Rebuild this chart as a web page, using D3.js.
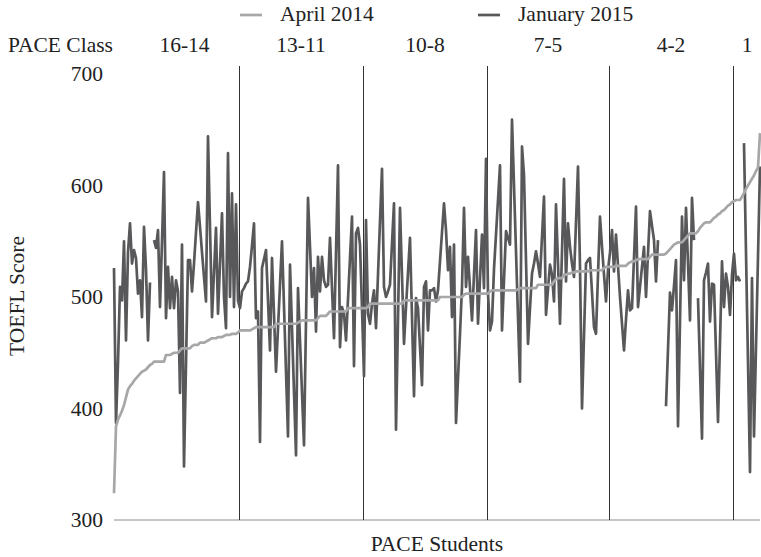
<!DOCTYPE html>
<html>
<head>
<meta charset="utf-8">
<script src="https://cdn.jsdelivr.net/npm/d3@7"></script>
<style>
  body { margin: 0; background: #fff; }
  svg text { font-family: "Liberation Serif", "Times New Roman", serif; fill: #222; }
</style>
</head>
<body>
<div id="chart"></div>
<script>
// one value per student, same order for both tests (null = no score)
const january2015 = [
  526,387,441,509,497,550,461,540,566,530,
  542,535,503,515,482,563,525,461,513,null,
  551,544,560,491,550,612,481,527,490,518,
  490,515,505,414,547,348,440,533,533,505,
  530,558,585,563,540,518,496,644,563,482,
  522,562,485,530,575,500,472,629,500,593,
  491,583,497,490,505,508,512,514,527,546,
  566,481,487,370,526,534,542,497,452,535,
  484,433,472,511,550,492,433,375,529,472,
  415,358,508,461,414,367,478,589,545,500,
  526,469,536,505,536,515,509,511,553,508,
  463,540,618,455,491,485,461,498,535,572,
  438,557,562,547,490,429,569,485,476,494,
  506,472,520,568,615,509,500,505,511,548,
  584,381,480,580,519,458,491,522,553,482,
  411,499,490,455,421,509,514,470,506,506,
  508,496,506,532,558,584,560,524,545,482,
  547,387,427,467,509,580,509,536,508,479,
  520,560,476,516,556,508,624,503,470,478,
  525,556,587,618,470,515,559,553,547,659,
  600,541,482,424,635,609,533,458,490,521,
  530,541,530,518,554,590,484,507,529,520,
  496,583,530,476,541,606,514,566,545,530,
  518,567,617,527,400,465,530,533,535,504,
  473,467,520,572,545,520,496,524,540,560,
  523,556,528,500,476,452,480,506,488,490,
  535,581,491,509,527,545,500,539,577,564,
  551,514,551,null,null,null,402,453,504,488,
  510,533,384,478,572,515,580,530,479,589,
  551,null,499,436,373,515,522,530,478,512,
  511,450,388,460,532,491,521,509,484,520,
  539,515,518,514,null,638,540,441,343,517,
  375,455,536,617
];

const april2014 = [
  324,384,390,394,398,403,410,417,420,422,
  425,427,429,431,433,434,435,437,439,440,
  442,442,442,442,442,442,448,448,448,449,
  450,450,450,452,454,454,454,454,454,456,
  457,457,457,459,459,459,460,461,462,463,
  463,463,464,464,464,465,466,466,466,467,
  467,467,468,470,470,470,470,470,470,471,
  472,473,473,473,473,473,473,473,473,473,
  473,476,476,476,476,476,476,476,476,476,
  476,476,477,478,479,479,479,479,479,479,
  479,479,481,483,483,483,483,485,487,487,
  487,487,487,487,487,487,487,490,490,490,
  490,490,490,490,490,490,490,491,494,494,
  494,494,494,494,494,494,494,494,494,494,
  494,494,494,494,494,497,497,497,497,497,
  497,497,497,497,497,497,497,497,497,497,
  497,497,497,500,500,500,500,500,500,500,
  500,500,500,500,500,502,503,503,503,503,
  503,503,503,503,503,503,503,503,505,506,
  506,506,506,506,506,506,506,506,506,506,
  506,506,507,508,508,508,508,508,508,508,
  508,508,511,511,511,511,511,511,511,511,
  514,516,517,517,517,520,520,521,521,522,
  522,523,523,523,523,523,523,523,524,524,
  524,524,524,524,524,526,527,527,527,527,
  527,528,528,528,528,528,528,530,531,532,
  532,533,534,534,534,534,534,534,536,538,
  538,538,538,538,538,538,539,541,543,545,
  547,548,549,549,549,551,553,555,557,557,
  557,557,559,562,564,566,567,567,567,569,
  571,572,574,575,577,578,580,582,583,585,
  586,587,587,587,590,593,597,600,603,606,
  609,613,616,647
];

const paceClasses = ["16-14", "13-11", "10-8", "7-5", "4-2", "1"];
const classSizes = [63, 62, 62, 61, 62, 14];
const yTicks = [300, 400, 500, 600, 700];
const seriesNames = ["April 2014", "January 2015"];
const seriesColors = ["#a7a7a9", "#58585a"];

const width = 761, height = 557;
const margin = {top: 74, right: 1, bottom: 37, left: 114};
const fontSize = "21.5px";

const svg = d3.select("#chart").append("svg")
    .attr("width", width)
    .attr("height", height);

const x = d3.scaleLinear()
    .domain([0, january2015.length - 1])
    .range([margin.left, width - margin.right]);

const y = d3.scaleLinear()
    .domain([300, 700])
    .range([height - margin.bottom, margin.top]);

// y axis, labels only
const yAxis = d3.axisLeft(y)
    .tickValues(yTicks)
    .tickSize(0)
    .tickPadding(11);

svg.append("g")
    .attr("class", "axis")
    .attr("transform", `translate(${margin.left},0)`)
    .call(yAxis)
    .attr("font-family", "Liberation Serif, serif")
    .attr("font-size", fontSize)
    .call(g => g.select(".domain").remove())
    .call(g => g.selectAll("text").attr("fill", "#222"));

// baseline at 300
svg.append("line")
    .attr("x1", x(0)).attr("x2", x(january2015.length - 1))
    .attr("y1", y(300)).attr("y2", y(300))
    .attr("stroke", "#8c8c8c")
    .attr("stroke-width", 1);

// class boundaries
let bounds = [];
let start = 0;
classSizes.forEach((n, i) => {
    bounds.push({name: paceClasses[i], from: start, to: start + n - 1});
    start += n;
});

svg.selectAll(".divider")
    .data(bounds.slice(1))
    .enter().append("line")
    .attr("class", "divider")
    .attr("x1", d => Math.round(x(d.from - 0.5)) + 0.5)
    .attr("x2", d => Math.round(x(d.from - 0.5)) + 0.5)
    .attr("y1", 66)
    .attr("y2", y(300))
    .attr("stroke", "#333")
    .attr("stroke-width", 1);

// class header row; first cell starts after the "PACE Class" caption
svg.append("text")
    .attr("x", 8)
    .attr("y", 52)
    .style("font-size", fontSize)
    .text("PACE Class");

svg.selectAll(".classLabel")
    .data(bounds)
    .enter().append("text")
    .attr("class", "classLabel")
    .attr("x", (d, i) => {
        let left = i === 0 ? 130 : x(d.from - 0.5);
        return (left + x(d.to + 0.5)) / 2;
    })
    .attr("y", 52)
    .attr("text-anchor", "middle")
    .style("font-size", fontSize)
    .text(d => d.name);

// lines
const line = d3.line()
    .defined(d => d != null)
    .x((d, i) => x(i))
    .y(d => y(d));

svg.append("path")
    .datum(january2015)
    .attr("fill", "none")
    .attr("stroke", seriesColors[1])
    .attr("stroke-width", 2.7)
    .attr("stroke-linejoin", "round")
    .attr("d", line);

svg.append("path")
    .datum(april2014)
    .attr("fill", "none")
    .attr("stroke", seriesColors[0])
    .attr("stroke-width", 2.7)
    .attr("stroke-linejoin", "round")
    .attr("d", line);

// legend
const legendX = [240, 478];
const legend = svg.selectAll(".legend")
    .data(seriesNames)
    .enter().append("g")
    .attr("class", "legend")
    .attr("transform", (d, i) => `translate(${legendX[i]},15)`);

legend.append("line")
    .attr("x1", 0).attr("x2", 22)
    .attr("stroke", (d, i) => seriesColors[i])
    .attr("stroke-width", 2.7);

legend.append("text")
    .attr("x", 40)
    .attr("y", 6)
    .style("font-size", fontSize)
    .text(d => d);

// axis titles
svg.append("text")
    .attr("x", 437)
    .attr("y", 551)
    .attr("text-anchor", "middle")
    .style("font-size", fontSize)
    .text("PACE Students");

svg.append("text")
    .attr("transform", "translate(24,296) rotate(-90)")
    .attr("text-anchor", "middle")
    .style("font-size", fontSize)
    .text("TOEFL Score");
</script>
</body>
</html>
